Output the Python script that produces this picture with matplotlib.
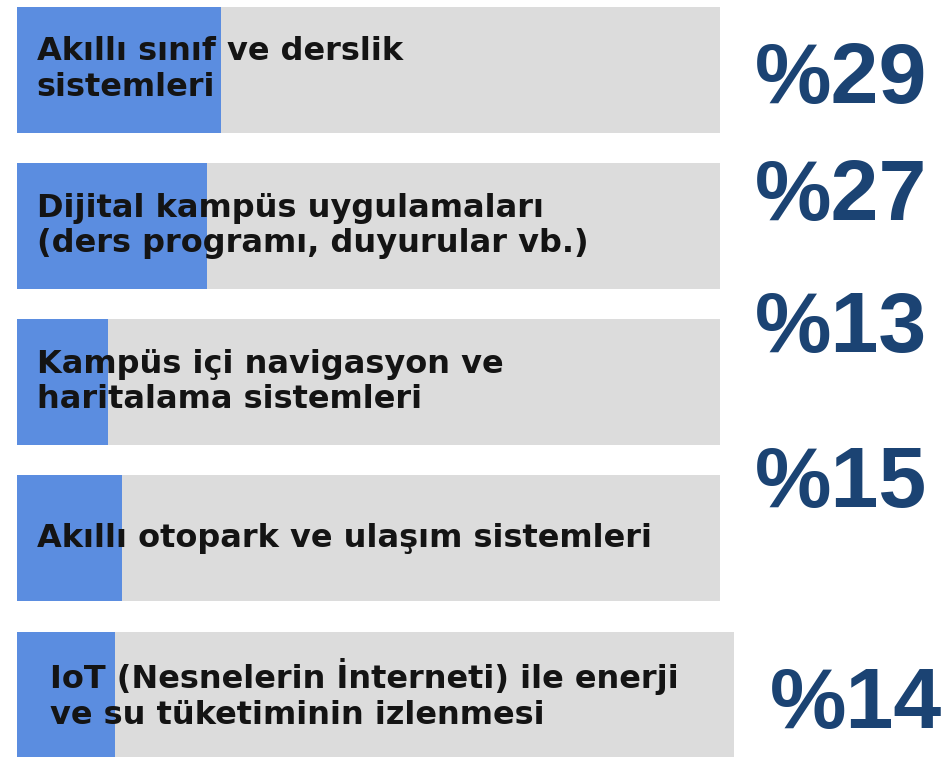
import matplotlib.pyplot as plt

# Share of each smart-campus application (%)
categories = [
    "Akıllı sınıf ve derslik\nsistemleri",
    "Dijital kampüs uygulamaları\n(ders programı, duyurular vb.)",
    "Kampüs içi navigasyon ve\nharitalama sistemleri",
    "Akıllı otopark ve ulaşım sistemleri",
    "IoT (Nesnelerin İnterneti) ile enerji\nve su tüketiminin izlenmesi",
]
shares = [29, 27, 13, 15, 14]
value_labels = ["%29", "%27", "%13", "%15", "%14"]

BLUE = "#5b8de0"
TRACK = "#dcdcdc"
NAVY = "#1b4373"
INK = "#141414"

# layout per row: track length, label x, value x, value baseline offset
track_len = [100, 100, 100, 100, 102]
label_x = [2.8, 2.8, 2.8, 2.8, 4.7]
value_x = [105.0, 105.0, 105.0, 105.0, 107.1]
value_dy = [0.214, -0.038, -0.195, -0.198, 0.211]

fig = plt.figure(figsize=(9.51, 7.57), dpi=100)
ax = fig.add_axes([0, 0, 1, 1])
ax.set_xlim(-17 / 7.03, (951 - 17) / 7.03)
ax.set_ylim(4.399, -0.445)
ax.axis("off")

y = list(range(len(categories)))
ax.barh(y, track_len, height=0.806, color=TRACK, zorder=1)
ax.barh(y, shares, height=0.806, color=BLUE, zorder=2)

for i, (cat, lab) in enumerate(zip(categories, value_labels)):
    ax.text(label_x[i], i, cat, ha="left", va="center", fontsize=23,
            fontweight="bold", family="DejaVu Sans", color=INK,
            linespacing=1.18, zorder=3)
    ax.text(value_x[i], i + value_dy[i], lab, ha="left", va="baseline",
            fontsize=62, fontweight="bold", family="Liberation Sans",
            color=NAVY, zorder=3)

fig.savefig("out.png", dpi=100, facecolor="white")
